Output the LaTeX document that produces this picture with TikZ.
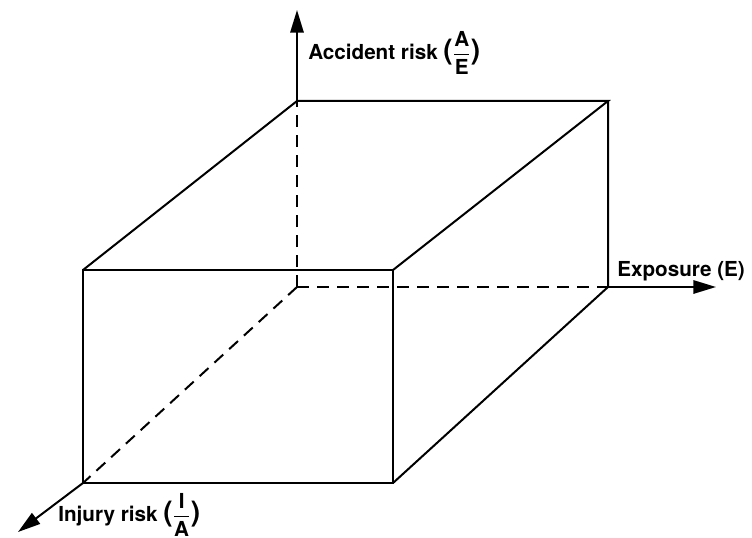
\documentclass[tikz,border=0pt]{standalone}
\usepackage{amsmath}
\usepackage{fontspec}
\setmainfont{TeX Gyre Heros}
\usetikzlibrary{arrows.meta}

\newcommand{\axfrac}[2]{{\fontsize{21}{21}\selectfont(}$\genfrac{}{}{1.1pt}{0}{\text{#1}}{\text{#2}}${\fontsize{21}{21}\selectfont)}}

\begin{document}
\begin{tikzpicture}[
        x=0.75pt, y=-0.75pt,
        edge/.style={line width=1.5pt},
        hidden/.style={line width=1.5pt, dash pattern=on 9pt off 6pt},
        axis/.style={line width=1.5pt, -{Triangle[length=17pt,width=10pt]}},
        axislabel/.style={anchor=west, inner sep=0pt, font=\fontsize{15.5}{17}\selectfont\bfseries}
    ]
        \useasboundingbox (0,0) rectangle (752,538);

        % Corners
        \coordinate (origin) at (297,287);
        \coordinate (btl) at (297,101);
        \coordinate (btr) at (608,101);
        \coordinate (bbr) at (608,287);
        \coordinate (ftl) at (83,270);
        \coordinate (ftr) at (393,270);
        \coordinate (fbl) at (83,483);
        \coordinate (fbr) at (393,483);

        % Axis ends
        \coordinate (yend) at (297,10);
        \coordinate (xend) at (716,287);
        \coordinate (zend) at (18,532);

        % Hidden edges
        \draw[hidden] (origin) -- (btl);
        \draw[hidden] (origin) -- (bbr);
        \draw[hidden] (origin) -- (fbl);

        % Front face
        \draw[edge] (ftl) rectangle (fbr);

        % Top and side
        \draw[edge] (ftl) -- (btl) -- (btr) -- (ftr);
        \draw[edge] (btr) -- (bbr) -- (fbr);

        % Axes
        \draw[axis] (btl) -- (yend);
        \draw[axis] (bbr) -- (xend);
        \draw[axis] (fbl) -- (zend);

        % Labels
        \node[axislabel] (ylabel) at (308,53) {Accident risk \axfrac{A}{E}};
        \node[axislabel] (xlabel) at (617,271) {Exposure (E)};
        \node[axislabel] (zlabel) at (58,515) {Injury risk \axfrac{I}{A}};

    \end{tikzpicture}
\end{document}
